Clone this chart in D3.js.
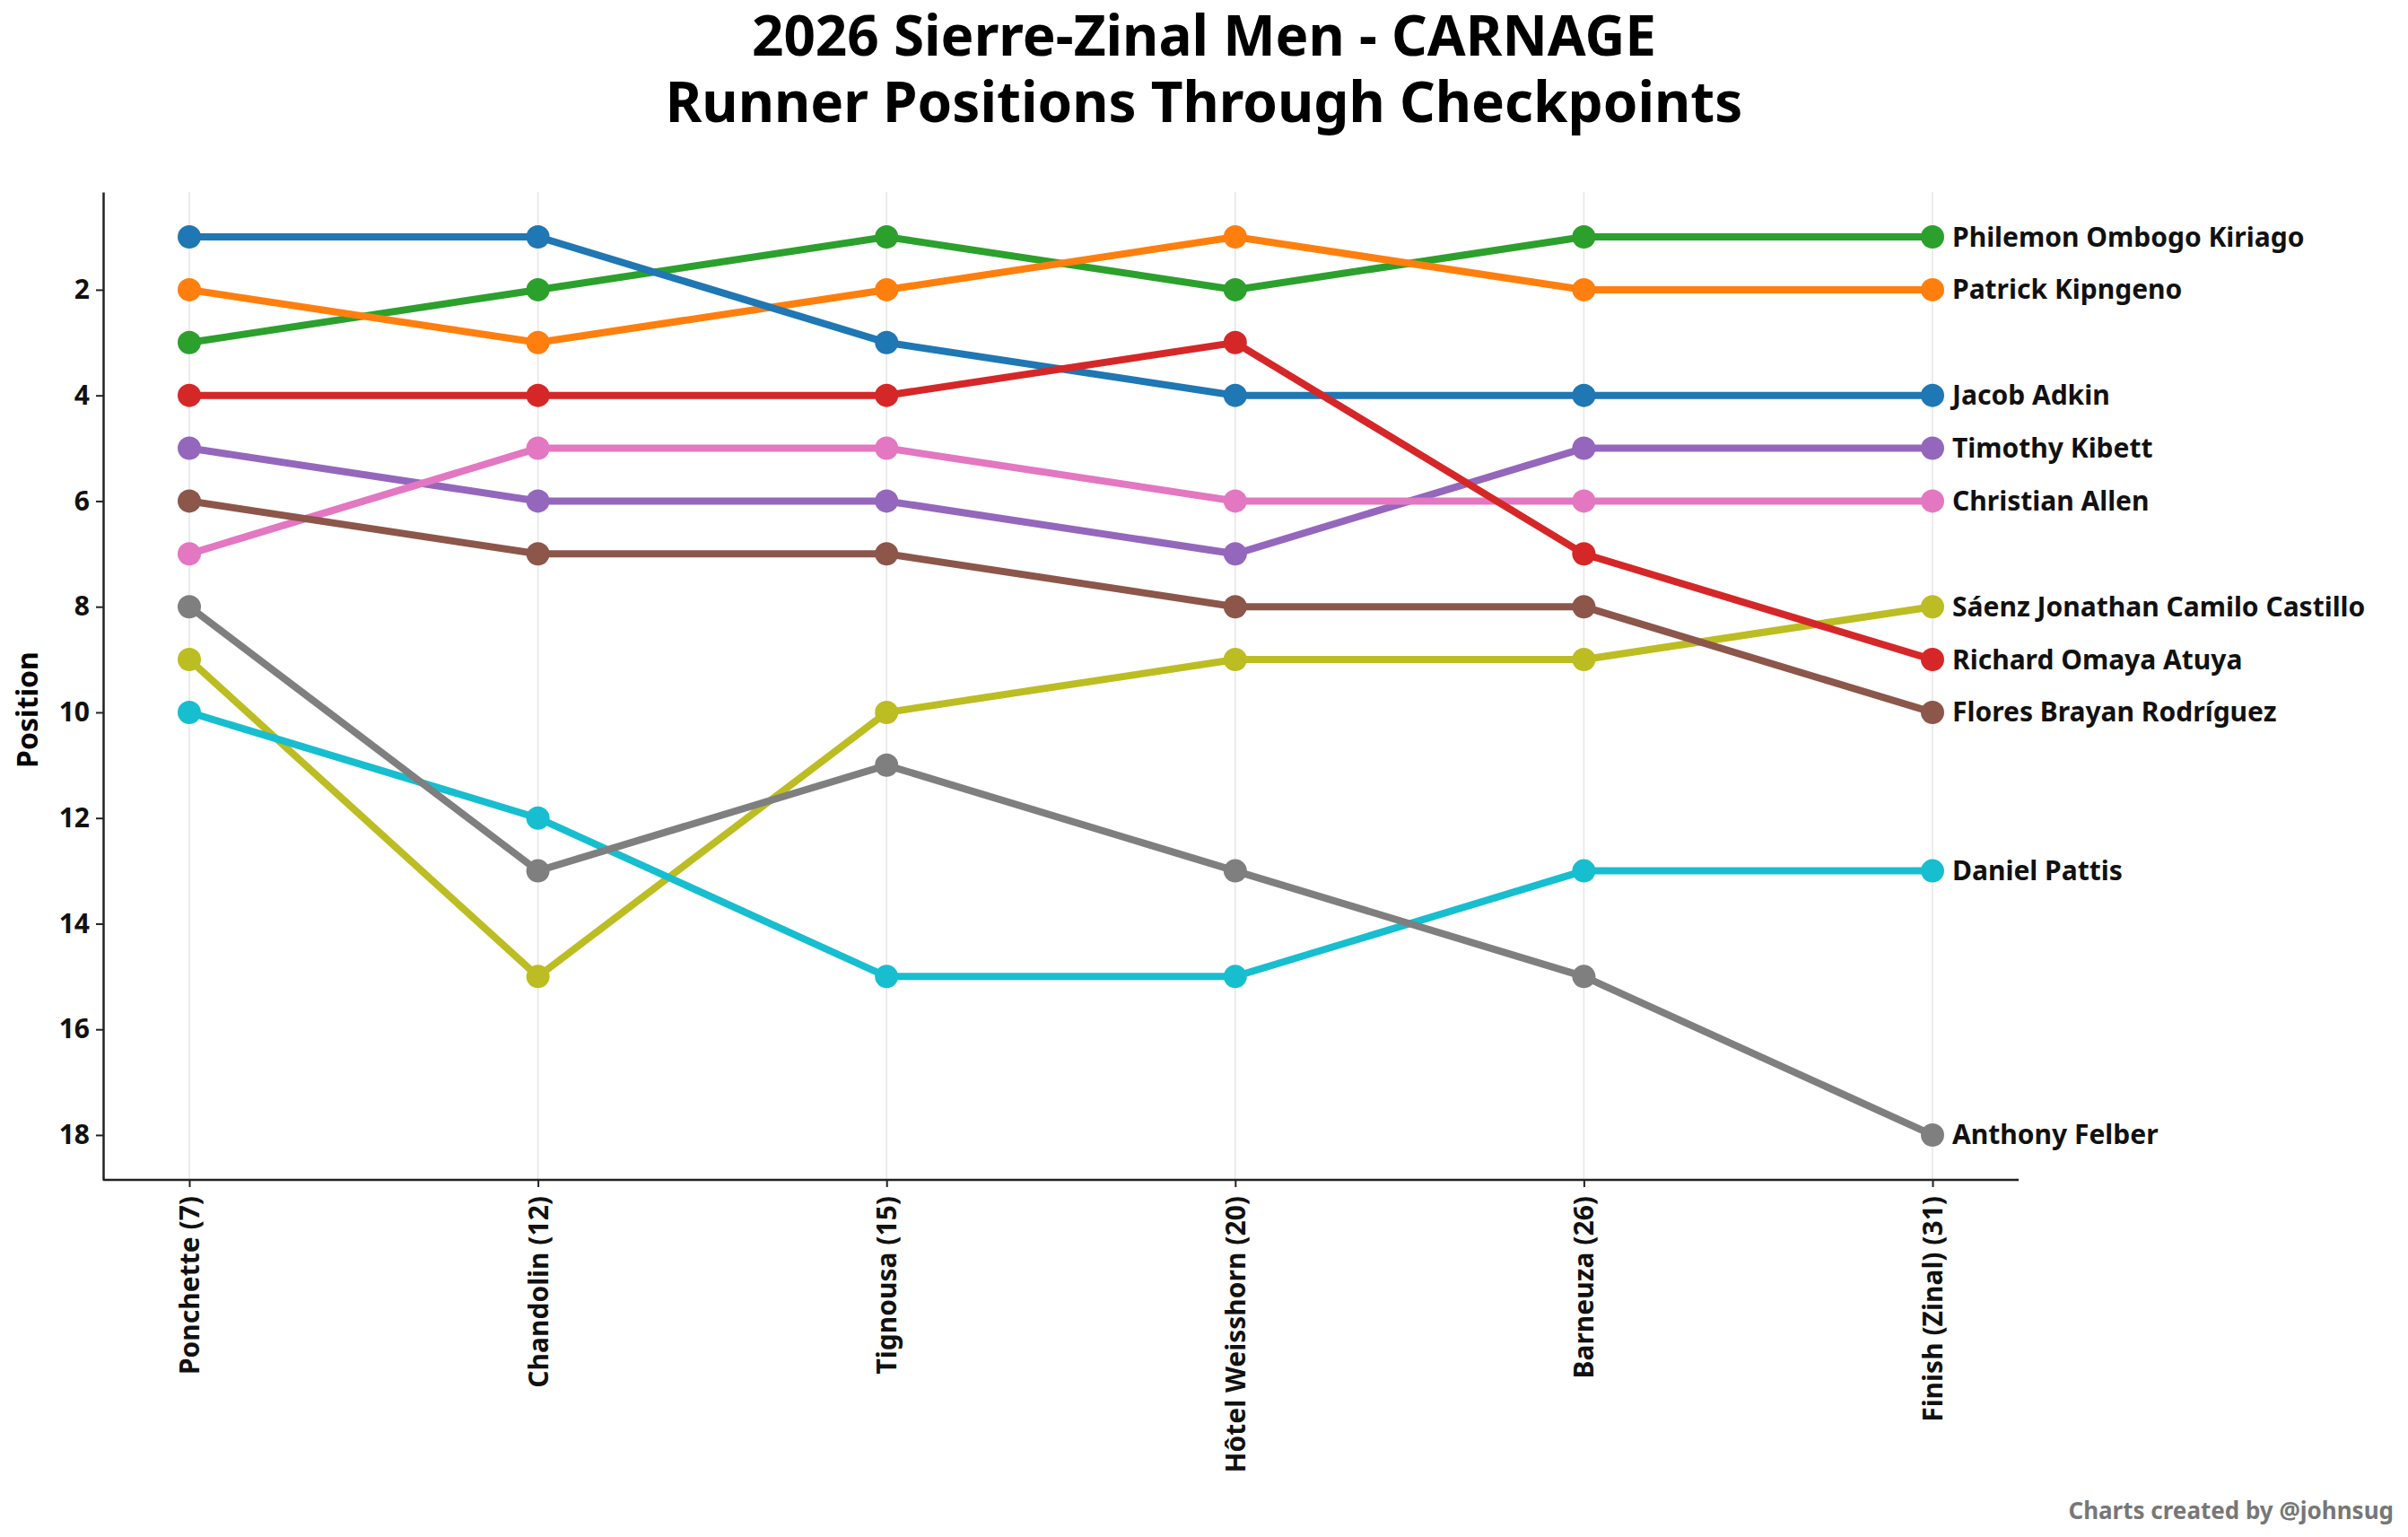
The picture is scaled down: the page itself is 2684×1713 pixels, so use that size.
<!DOCTYPE html>
<html>
<head>
<meta charset="utf-8">
<script src="https://cdn.jsdelivr.net/npm/d3@7"></script>
<style>
  body { margin: 0; background: #fff; }
  text { font-family: "Noto Sans", sans-serif; font-weight: 700; }
</style>
</head>
<body>
<div id="chart"></div>
<script>
var checkpoints = ['Ponchette (7)', 'Chandolin (12)', 'Tignousa (15)', 'Hôtel Weisshorn (20)', 'Barneuza (26)', 'Finish (Zinal) (31)'];
var runners = ['Philemon Ombogo Kiriago', 'Patrick Kipngeno', 'Jacob Adkin', 'Timothy Kibett', 'Christian Allen',
    'Sáenz Jonathan Camilo Castillo', 'Richard Omaya Atuya', 'Flores Brayan Rodríguez', 'Daniel Pattis', 'Anthony Felber'];
var colors = ['#2ca02c', '#ff7f0e', '#1f77b4', '#9467bd', '#e377c2', '#bcbd22', '#d62728', '#8c564b', '#17becf', '#7f7f7f'];
var kiriago = [3, 2, 1, 2, 1, 1];
var kipngeno = [2, 3, 2, 1, 2, 2];
var adkin = [1, 1, 3, 4, 4, 4];
var kibett = [5, 6, 6, 7, 5, 5];
var allen = [7, 5, 5, 6, 6, 6];
var castillo = [9, 15, 10, 9, 9, 8];
var atuya = [4, 4, 4, 3, 7, 9];
var brayan = [6, 7, 7, 8, 8, 10];
var pattis = [10, 12, 15, 15, 13, 13];
var felber = [8, 13, 11, 13, 15, 18];
var positions = [kiriago, kipngeno, adkin, kibett, allen, castillo, atuya, brayan, pattis, felber];
var yTicks = [2, 4, 6, 8, 10, 12, 14, 16, 18];

var width = 2684, height = 1713;
var svg = d3.select('#chart').append('svg').attr('width', width).attr('height', height);

var plotLeft = 115, plotRight = 2250, plotTop = 214, plotBottom = 1315;
var x = d3.scalePoint().domain(checkpoints).range([211, 2154]);
var y = d3.scaleLinear().domain([0.15, 18.85]).range([plotTop, plotBottom]);

svg.append('text').attr('x', 1342).attr('y', 62).attr('text-anchor', 'middle')
    .attr('font-size', 62).text('2026 Sierre-Zinal Men - CARNAGE');
svg.append('text').attr('x', 1342).attr('y', 136).attr('text-anchor', 'middle')
    .attr('font-size', 62).text('Runner Positions Through Checkpoints');

// vertical grid
svg.selectAll('.grid').data(checkpoints).enter().append('line')
    .attr('x1', function (d) { return x(d); }).attr('x2', function (d) { return x(d); })
    .attr('y1', plotTop).attr('y2', plotBottom).attr('stroke', '#e6e6e6').attr('stroke-width', 1.5);

var yAxis = svg.append('g').attr('transform', 'translate(' + plotLeft + ',0)')
    .call(d3.axisLeft(y).tickValues(yTicks).tickSize(8).tickSizeOuter(0));
yAxis.selectAll('text').attr('font-size', 30).attr('fill', '#111').attr('dx', -4);
yAxis.select('.domain').attr('stroke-width', 2.5).attr('stroke', '#222');
yAxis.selectAll('.tick line').attr('stroke-width', 2).attr('stroke', '#222');

var xAxis = svg.append('g').attr('transform', 'translate(0,' + plotBottom + ')')
    .call(d3.axisBottom(x).tickSize(8).tickSizeOuter(0));
xAxis.select('.domain').attr('d', 'M' + plotLeft + ',0H' + plotRight).attr('stroke-width', 2.5).attr('stroke', '#222');
xAxis.selectAll('.tick line').attr('stroke-width', 2).attr('stroke', '#222');
xAxis.selectAll('text').attr('font-size', 30).attr('fill', '#111')
    .attr('transform', 'rotate(-90)').attr('text-anchor', 'end')
    .attr('x', -18).attr('y', 0).attr('dy', '0.35em');

svg.append('text').attr('transform', 'translate(42,791) rotate(-90)')
    .attr('text-anchor', 'middle').attr('font-size', 32).text('Position');

var line = d3.line().x(function (d, i) { return x(checkpoints[i]); }).y(function (d) { return y(d); });

positions.forEach(function (series, k) {
    svg.append('path').datum(series).attr('d', line).attr('fill', 'none')
        .attr('stroke', colors[k]).attr('stroke-width', 8);
    svg.selectAll('.c' + k).data(series).enter().append('circle')
        .attr('cx', function (d, i) { return x(checkpoints[i]); })
        .attr('cy', function (d) { return y(d); })
        .attr('r', 13).attr('fill', colors[k]);
    svg.append('text').attr('x', x(checkpoints[5]) + 22).attr('y', y(series[5]))
        .attr('dy', '0.35em').attr('font-size', 30).attr('fill', '#111').text(runners[k]);
});

svg.append('text').attr('x', 2668).attr('y', 1693).attr('text-anchor', 'end')
    .attr('font-size', 26).attr('fill', '#777').text('Charts created by @johnsug');
</script>
</body>
</html>
